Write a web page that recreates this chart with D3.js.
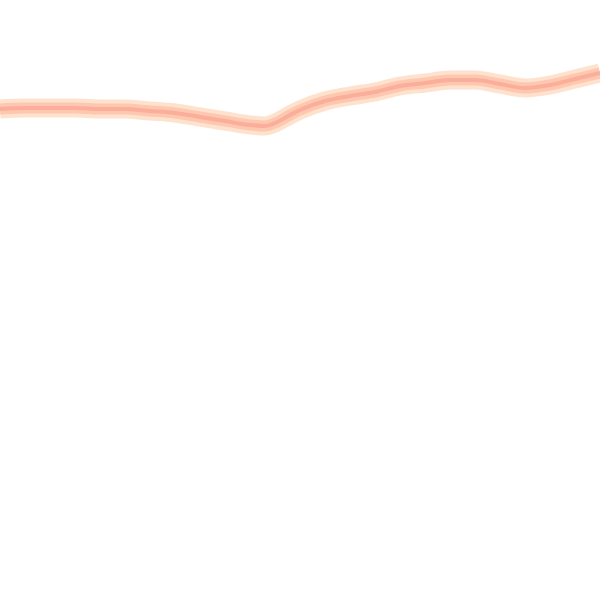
<!DOCTYPE html>
<html>
<head>
<meta charset="utf-8">
<script src="https://cdn.jsdelivr.net/npm/d3@7"></script>
<style>
  html, body { margin: 0; padding: 0; background: #fff; }
  svg { display: block; }
</style>
</head>
<body>
<div id="chart"></div>
<script>
// Data
const xs = [0, 25, 50, 75, 100, 125, 150, 175, 200, 225, 250, 265, 275, 290, 300, 325, 350, 375, 400, 425, 450, 475, 500, 525, 550, 575, 600];
const ys = [491, 492, 492, 492, 491, 491, 489, 487, 483, 479, 475, 474, 477, 485, 490, 499, 504, 508, 514, 517, 520, 520, 516, 512, 515, 521, 527];

const w = 600, h = 600;

const x = d3.scaleLinear().domain([0, 600]).range([0, w]);
const y = d3.scaleLinear().domain([0, 600]).range([h, 0]);

const svg = d3.select('#chart')
              .append('svg')
              .attr('width', w)
              .attr('height', h);

const points = xs.map((d, i) => ({ x: d, y: ys[i] }));

const line = d3.line()
               .x(d => x(d.x))
               .y(d => y(d.y))
               .curve(d3.curveMonotoneX);

// halo, body, core
const strokes = [
  { color: '#fee2cd', width: 19 },
  { color: '#fdc7b0', width: 11 },
  { color: '#fbae9a', width: 4 },
];

svg.selectAll('path.band')
   .data(strokes)
   .enter()
   .append('path')
   .attr('class', 'band')
   .attr('d', line(points))
   .attr('fill', 'none')
   .attr('stroke', d => d.color)
   .attr('stroke-width', d => d.width)
   .attr('stroke-linejoin', 'round')
   .attr('stroke-linecap', 'butt');
</script>
</body>
</html>
